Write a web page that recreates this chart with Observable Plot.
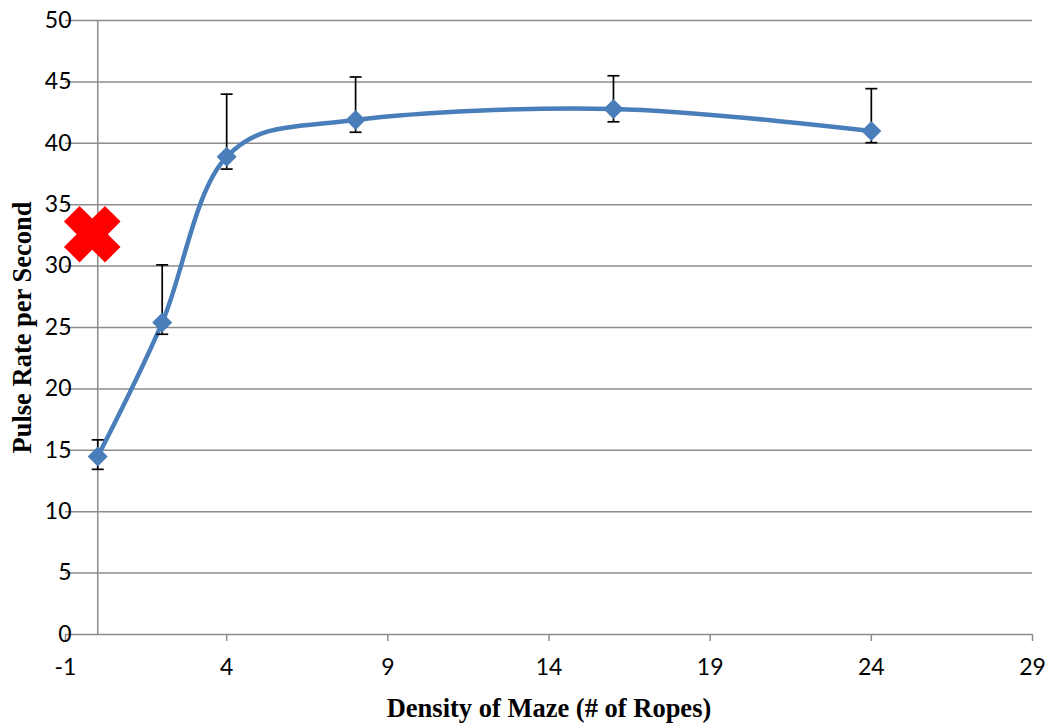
<!DOCTYPE html>
<html>
<head>
<meta charset="utf-8">
<script src="https://cdn.jsdelivr.net/npm/d3@7"></script>
<script src="https://cdn.jsdelivr.net/npm/@observablehq/plot@0.6"></script>
<style>
  html, body { margin: 0; padding: 0; background: #fff; }
  #chart { width: 1050px; height: 725px; }
</style>
</head>
<body>
<div id="chart"></div>
<script>
// ---- data ----
const density = [0, 2, 4, 8, 16, 24];
const pulseRate = [14.5, 25.4, 38.9, 41.9, 42.8, 41.0];
const errUpper = [15.85, 30.1, 44.0, 45.4, 45.5, 44.45];
const errLower = [13.45, 24.45, 37.9, 40.9, 41.75, 40.05];
const crossX = [-0.17];
const crossY = [32.6];
const xTicks = [-1, 4, 9, 14, 19, 24, 29];
const yTicks = [0, 5, 10, 15, 20, 25, 30, 35, 40, 45, 50];
const xTitle = "Density of Maze (# of Ropes)";
const yTitle = "Pulse Rate per Second";

const rows = density.map((d, i) => ({x: d, y: pulseRate[i], hi: errUpper[i], lo: errLower[i]}));
const crossRows = crossX.map((d, i) => ({x: d, y: crossY[i]}));

// custom symbols
const capSymbol = { draw(ctx) { ctx.moveTo(-6, 0); ctx.lineTo(6, 0); } };
const crossSymbol = {
  draw(ctx) {
    const h = 11, a = 29;
    const pts = [[-h,-a],[h,-a],[h,-h],[a,-h],[a,h],[h,h],[h,a],[-h,a],[-h,h],[-a,h],[-a,-h],[-h,-h]];
    ctx.moveTo(pts[0][0], pts[0][1]);
    for (let k = 1; k < pts.length; k++) ctx.lineTo(pts[k][0], pts[k][1]);
    ctx.closePath();
  }
};

const grid = "#8c8c8c";
const blue = "#4a7ebb";
const serif = "'Liberation Serif', 'Times New Roman', serif";

const chart = Plot.plot({
  width: 1050,
  height: 725,
  marginLeft: 65,
  marginRight: 18,
  marginTop: 20,
  marginBottom: 91,
  style: { background: "#fff", fontFamily: "Lato, 'Open Sans', sans-serif" },
  x: { domain: [-1, 29] },
  y: { domain: [0, 50] },
  marks: [
    Plot.ruleY(yTicks, { stroke: grid, strokeWidth: 1.5 }),
    Plot.ruleX([0], { stroke: grid, strokeWidth: 1.5 }),
    Plot.axisX({ ticks: xTicks, tickSize: 7, stroke: grid, strokeWidth: 1.5, tickPadding: 17,
                 fontSize: 23, color: "#000", label: null, tickFormat: d => String(d) }),
    Plot.axisY({ ticks: yTicks, tickSize: 0, tickPadding: -6, fontSize: 23, color: "#000",
                 label: null, tickFormat: d => String(d) }),
    Plot.line(rows, { x: "x", y: "y", curve: "cardinal", stroke: blue, strokeWidth: 4.5 }),
    Plot.ruleX(rows, { x: "x", y1: "lo", y2: "hi", stroke: "#000", strokeWidth: 1.7 }),
    Plot.dot(rows, { x: "x", y: "hi", symbol: capSymbol, stroke: "#000", strokeWidth: 1.7, r: 6 }),
    Plot.dot(rows, { x: "x", y: "lo", symbol: capSymbol, stroke: "#000", strokeWidth: 1.7, r: 6 }),
    Plot.dot(rows, { x: "x", y: "y", symbol: "square", rotate: 45, r: 8, fill: blue, stroke: "none" }),
    Plot.dot(crossRows, { x: "x", y: "y", symbol: crossSymbol, rotate: 45, r: 10, fill: "#ff0000", stroke: "none" }),
    Plot.text([xTitle], { frameAnchor: "bottom", dy: 74, text: d => d, textAnchor: "middle", lineAnchor: "middle",
                          fontSize: 26.5, fontWeight: "bold", fontFamily: serif, fill: "#000" }),
    Plot.text([yTitle], { frameAnchor: "left", dx: -43, rotate: -90, text: d => d, textAnchor: "middle", lineAnchor: "middle",
                          fontSize: 26.5, fontWeight: "bold", fontFamily: serif, fill: "#000" })
  ]
});
document.getElementById("chart").appendChild(chart);
</script>
</body>
</html>
